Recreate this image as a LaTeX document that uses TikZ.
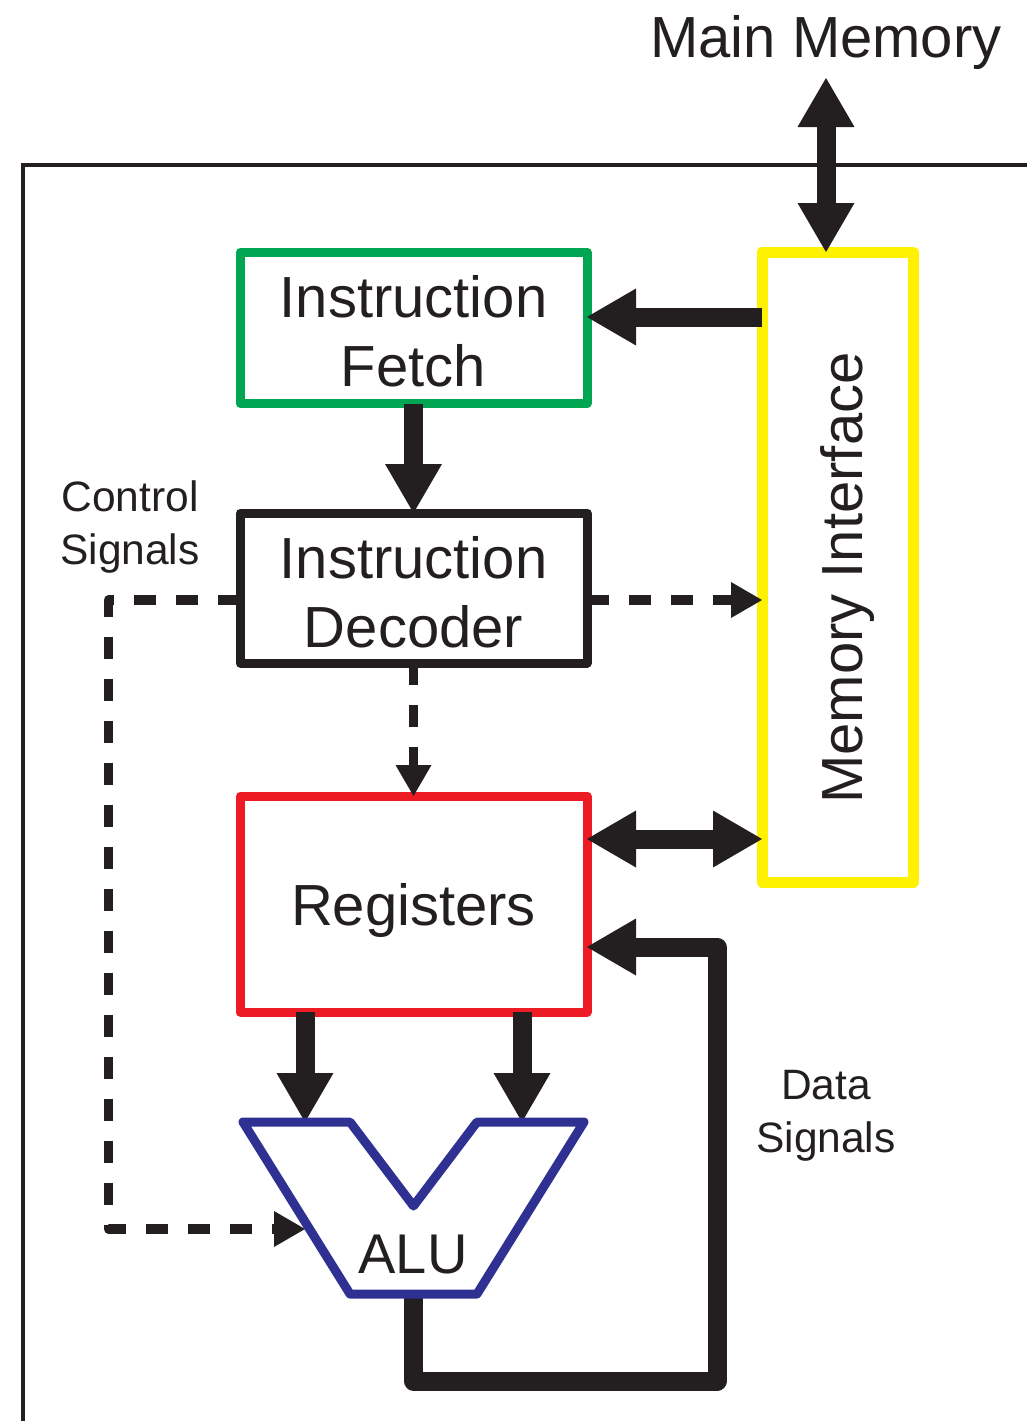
\documentclass[tikz,border=0pt]{standalone}
\usepackage{fontspec}
\setmainfont{Liberation Sans}
\usetikzlibrary{arrows.meta,calc}
\definecolor{ink}{RGB}{35,31,32}
\definecolor{fetchgreen}{RGB}{0,166,81}
\definecolor{regred}{RGB}{237,28,36}
\definecolor{memyellow}{RGB}{255,242,0}
\definecolor{alublue}{RGB}{46,49,146}
\begin{document}
\begin{tikzpicture}[x=1pt,y=-1pt,
  unitbox/.style={draw, line width=9pt, line join=round, minimum width=347pt,
    outer sep=0pt, inner sep=0pt},
  bigtext/.style={font=\fontsize{58}{69}\selectfont, text=ink, align=center, inner sep=0pt},
  smalltext/.style={font=\fontsize{42.5}{53}\selectfont, text=ink, align=center, inner sep=0pt},
  bus/.style={draw=ink, line width=19pt, line join=round,
    -{Triangle[width=57pt,length=49pt,line width=0pt]}},
  bibus/.style={bus, {Triangle[width=57pt,length=49pt,line width=0pt]}-{Triangle[width=57pt,length=49pt,line width=0pt]}},
  ctrl/.style={draw=ink, line width=9.5pt, line join=round, dash pattern=on 22pt off 20pt,
    -{Triangle[width=36pt,length=31pt,line width=0pt]}},
]
\useasboundingbox (0,0) rectangle (1026,1421);

% processor outline
\draw[ink, line width=4.5pt] (1040,165) -- (23,165) -- (23,1440);

% functional units
\node[unitbox, draw=fetchgreen, minimum height=151.5pt] (fetch) at (413.5,327.75) {};
\node[unitbox, draw=ink, minimum height=150pt] (dec) at (413.5,588) {};
\node[unitbox, draw=regred, minimum height=216pt] (regs) at (413.5,904) {};
\node[unitbox, draw=memyellow, line width=11pt, minimum width=151pt, minimum height=630pt] (mem) at (837.5,567) {};

\node[bigtext] (fetchtxt) at ($(fetch.center)+(0,4)$) {Instruction\\Fetch};
\node[bigtext] (dectxt) at ($(dec.center)+(0,4)$) {Instruction\\Decoder};
\node[bigtext, anchor=base] (regstxt) at (413.5,925) {Registers};
\node[bigtext, anchor=base, rotate=90] (memtxt) at (862,578) {Memory Interface};
\node[bigtext, anchor=base] (mmtxt) at (826,58) {Main Memory};
\node[smalltext] (ctltxt) at (130,527) {Control\\Signals};
\node[smalltext] (datatxt) at (826,1116) {Data\\Signals};

% ALU outline and its ports
\coordinate (alul) at (305,1122);
\coordinate (alur) at (522,1122);
\coordinate (aluctl) at (305,1229);
\coordinate (aluout) at (413.5,1294);
\coordinate (ctlbend) at (108.5,1229);
\coordinate (retbend) at (717,1381);

% data paths
\draw[bibus] ($(mmtxt.base)+(0,20)$) -- (mem.north -| mmtxt.base);
\draw[bus] ($(fetch.east -| mem.west)+(0,-10.75)$) -- ($(fetch.east)+(0,-10.75)$);
\draw[bus] (fetch.south) -- (dec.north);
\draw[bibus] ($(regs.east)+(0,-65)$) -- ($(regs.east -| mem.west)+(0,-65)$);
\draw[bus] ($(regs.south)+(-108.5,0)$) -- (alul);
\draw[bus] ($(regs.south)+(108.5,0)$) -- (alur);
\draw[bus] (aluout) |- (retbend) |- ($(regs.east)+(0,43)$);

% control paths
\draw[ctrl] (dec.south) -- (regs.north);
\draw[ctrl] ($(dec.east)+(0,12)$) -- ($(dec.east -| mem.west)+(0,12)$);
\draw[ctrl] ($(dec.west)+(0,12)$) -| (ctlbend) -- (aluctl);

\draw[alublue, line width=9pt, line join=round] (243,1122) -- (350,1122) -- (413.5,1206)
  -- (477,1122) -- (584,1122) -- (477,1294) -- (350,1294) -- cycle;
\node[bigtext, font=\fontsize{56}{68}\selectfont, anchor=base] (alutxt) at (413,1273) {ALU};
\end{tikzpicture}
\end{document}
